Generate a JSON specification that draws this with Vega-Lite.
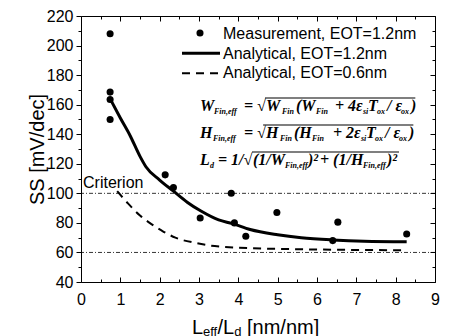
{
  "$schema": "https://vega.github.io/schema/vega-lite/v6.json",
  "width": 354,
  "height": 266,
  "autosize": {"type": "none"},
  "padding": {"left": 81, "top": 16, "right": 15, "bottom": 54},
  "background": "white",
  "config": {
    "view": {"stroke": null},
    "axis": {"labelFont": "Liberation Sans", "labelFontSize": 16, "labelColor": "black", "tickColor": "black", "domainColor": "black", "titleFont": "Liberation Sans", "titleFontSize": 20, "titleFontWeight": "normal", "titleColor": "black", "grid": false, "tickWidth": 1, "domainWidth": 1, "labelOverlap": false, "labelFlush": false}
  },
  "datasets": {
    "meas": [
      {"x": 0.74, "ss": 208}, {"x": 0.74, "ss": 168.5}, {"x": 0.74, "ss": 163.5}, {"x": 0.74, "ss": 150},
      {"x": 2.14, "ss": 112.5}, {"x": 2.35, "ss": 104}, {"x": 3.03, "ss": 83.3}, {"x": 3.82, "ss": 100},
      {"x": 3.9, "ss": 80}, {"x": 4.19, "ss": 71}, {"x": 4.98, "ss": 87}, {"x": 6.4, "ss": 68},
      {"x": 6.53, "ss": 80.5}, {"x": 8.28, "ss": 72.5}
    ],
    "solid": [
      {"x": 0.78, "ss": 162}, {"x": 1.0, "ss": 151}, {"x": 1.25, "ss": 139}, {"x": 1.5, "ss": 125},
      {"x": 1.65, "ss": 118}, {"x": 2.0, "ss": 109}, {"x": 2.35, "ss": 101.5}, {"x": 2.7, "ss": 94},
      {"x": 3.05, "ss": 88}, {"x": 3.5, "ss": 82}, {"x": 3.85, "ss": 79.5}, {"x": 4.3, "ss": 75.5},
      {"x": 5.0, "ss": 72}, {"x": 5.6, "ss": 70}, {"x": 6.4, "ss": 68.5}, {"x": 7.2, "ss": 67.6},
      {"x": 8.28, "ss": 67.2}
    ],
    "dashed": [
      {"x": 0.92, "ss": 101.5}, {"x": 1.2, "ss": 93}, {"x": 1.5, "ss": 85}, {"x": 1.8, "ss": 79},
      {"x": 2.1, "ss": 74}, {"x": 2.4, "ss": 70}, {"x": 2.9, "ss": 66.5}, {"x": 3.4, "ss": 64.3},
      {"x": 4.0, "ss": 63.2}, {"x": 5.0, "ss": 62.4}, {"x": 6.0, "ss": 62}, {"x": 7.0, "ss": 61.7},
      {"x": 8.28, "ss": 61.5}
    ],
    "refs": [{"ss": 100}, {"ss": 60}]
  },
  "resolve": {"axis": {"x": "independent", "y": "independent"}},
  "layer": [
    {
      "data": {"values": [{}]},
      "layer": [
        {
          "data": {"name": "refs"},
          "mark": {"type": "rule", "color": "black", "strokeWidth": 0.8, "strokeDash": [4, 2, 1, 2]},
          "encoding": {"y": {"field": "ss", "type": "quantitative", "scale": {"domain": [40, 220], "nice": false, "zero": false}}}
        },
        {
          "data": {"name": "meas"},
          "mark": {"type": "point", "filled": true, "color": "black", "size": 50, "opacity": 1},
          "encoding": {
            "x": {"field": "x", "type": "quantitative", "scale": {"domain": [0, 9], "nice": false, "zero": false},
              "axis": {"orient": "bottom", "values": [0, 2, 4, 6, 8], "tickSize": -5,
                "labelPadding": 14, "labelOverlap": false, "labelFlush": false, "title": null}},
            "y": {"field": "ss", "type": "quantitative", "scale": {"domain": [40, 220], "nice": false, "zero": false},
              "axis": {"orient": "left", "values": [40, 80, 120, 160, 200], "tickSize": 5,
                "labelPadding": 3, "labelOverlap": false, "labelFlush": false, "title": "SS [mV/dec]", "titlePadding": -1}}
          }
        },
        {
          "data": {"name": "solid"},
          "mark": {"type": "line", "color": "black", "strokeWidth": 3, "interpolate": "monotone"},
          "encoding": {"x": {"field": "x", "type": "quantitative"}, "y": {"field": "ss", "type": "quantitative"}}
        },
        {
          "data": {"name": "dashed"},
          "mark": {"type": "line", "color": "black", "strokeWidth": 2, "strokeDash": [8, 6], "interpolate": "monotone"},
          "encoding": {"x": {"field": "x", "type": "quantitative"}, "y": {"field": "ss", "type": "quantitative"}}
        },
        {"mark": {"type": "text", "text": "Criterion", "align": "left", "baseline": "alphabetic", "font": "Liberation Sans", "fontSize": 16, "color": "black"},
          "encoding": {"x": {"datum": 0.0508}, "y": {"datum": 103.61}}},
        {"mark": {"type": "point", "filled": true, "color": "black", "size": 50, "opacity": 1},
          "encoding": {"x": {"datum": 3.0254}, "y": {"datum": 208.5}}},
        {"mark": {"type": "rule", "color": "black", "strokeWidth": 3},
          "encoding": {"x": {"datum": 2.5678}, "x2": {"datum": 3.5339}, "y": {"datum": 194.76}}},
        {"mark": {"type": "rule", "color": "black", "strokeWidth": 2, "strokeDash": [8, 6]},
          "encoding": {"x": {"datum": 2.5678}, "x2": {"datum": 3.5339}, "y": {"datum": 181.23}}},
        {"mark": {"type": "text", "text": "Measurement, EOT=1.2nm", "align": "left", "baseline": "alphabetic", "font": "Liberation Sans", "fontSize": 16, "color": "black"},
          "encoding": {"x": {"datum": 3.6102}, "y": {"datum": 204.77}}},
        {"mark": {"type": "text", "text": "Analytical, EOT=1.2nm", "align": "left", "baseline": "alphabetic", "font": "Liberation Sans", "fontSize": 16, "color": "black"},
          "encoding": {"x": {"datum": 3.6102}, "y": {"datum": 191.24}}},
        {"mark": {"type": "text", "text": "Analytical, EOT=0.6nm", "align": "left", "baseline": "alphabetic", "font": "Liberation Sans", "fontSize": 16, "color": "black"},
          "encoding": {"x": {"datum": 3.6102}, "y": {"datum": 177.71}}},

        {"mark": {"type": "text", "text": "W", "align": "left", "baseline": "alphabetic", "font": "Liberation Serif", "fontSize": 16, "fontStyle": "italic", "fontWeight": "bold", "color": "black"}, "encoding": {"x": {"datum": 3.0254}, "y": {"datum": 155.71}}},
        {"mark": {"type": "text", "text": "Fin,eff", "align": "left", "baseline": "alphabetic", "font": "Liberation Serif", "fontSize": 8, "fontStyle": "italic", "fontWeight": "bold", "color": "black"}, "encoding": {"x": {"datum": 3.3814}, "y": {"datum": 153.68}}},
        {"mark": {"type": "text", "text": "= √W", "align": "left", "baseline": "alphabetic", "font": "Liberation Serif", "fontSize": 16, "fontStyle": "italic", "fontWeight": "bold", "color": "black"}, "encoding": {"x": {"datum": 4.1441}, "y": {"datum": 155.71}}},
        {"mark": {"type": "text", "text": "Fin", "align": "left", "baseline": "alphabetic", "font": "Liberation Serif", "fontSize": 8, "fontStyle": "italic", "fontWeight": "bold", "color": "black"}, "encoding": {"x": {"datum": 5.1102}, "y": {"datum": 153.68}}},
        {"mark": {"type": "text", "text": "(W", "align": "left", "baseline": "alphabetic", "font": "Liberation Serif", "fontSize": 16, "fontStyle": "italic", "fontWeight": "bold", "color": "black"}, "encoding": {"x": {"datum": 5.4661}, "y": {"datum": 155.71}}},
        {"mark": {"type": "text", "text": "Fin", "align": "left", "baseline": "alphabetic", "font": "Liberation Serif", "fontSize": 8, "fontStyle": "italic", "fontWeight": "bold", "color": "black"}, "encoding": {"x": {"datum": 5.9746}, "y": {"datum": 153.68}}},
        {"mark": {"type": "text", "text": "+ 4ε", "align": "left", "baseline": "alphabetic", "font": "Liberation Serif", "fontSize": 16, "fontStyle": "italic", "fontWeight": "bold", "color": "black"}, "encoding": {"x": {"datum": 6.4576}, "y": {"datum": 155.71}}},
        {"mark": {"type": "text", "text": "si", "align": "left", "baseline": "alphabetic", "font": "Liberation Serif", "fontSize": 8, "fontStyle": "italic", "fontWeight": "bold", "color": "black"}, "encoding": {"x": {"datum": 7.1695}, "y": {"datum": 153.68}}},
        {"mark": {"type": "text", "text": "T", "align": "left", "baseline": "alphabetic", "font": "Liberation Serif", "fontSize": 16, "fontStyle": "italic", "fontWeight": "bold", "color": "black"}, "encoding": {"x": {"datum": 7.2966}, "y": {"datum": 155.71}}},
        {"mark": {"type": "text", "text": "ox", "align": "left", "baseline": "alphabetic", "font": "Liberation Serif", "fontSize": 8, "fontStyle": "italic", "fontWeight": "bold", "color": "black"}, "encoding": {"x": {"datum": 7.5254}, "y": {"datum": 153.68}}},
        {"mark": {"type": "text", "text": "/ ε", "align": "left", "baseline": "alphabetic", "font": "Liberation Serif", "fontSize": 16, "fontStyle": "italic", "fontWeight": "bold", "color": "black"}, "encoding": {"x": {"datum": 7.7797}, "y": {"datum": 155.71}}},
        {"mark": {"type": "text", "text": "ox", "align": "left", "baseline": "alphabetic", "font": "Liberation Serif", "fontSize": 8, "fontStyle": "italic", "fontWeight": "bold", "color": "black"}, "encoding": {"x": {"datum": 8.1356}, "y": {"datum": 153.68}}},
        {"mark": {"type": "text", "text": ")", "align": "left", "baseline": "alphabetic", "font": "Liberation Serif", "fontSize": 16, "fontStyle": "italic", "fontWeight": "bold", "color": "black"}, "encoding": {"x": {"datum": 8.39}, "y": {"datum": 155.71}}},
        {"mark": {"type": "rule", "color": "black", "strokeWidth": 1.2}, "encoding": {"x": {"datum": 4.678}, "x2": {"datum": 8.5}, "y": {"datum": 164.51}}},

        {"mark": {"type": "text", "text": "H", "align": "left", "baseline": "alphabetic", "font": "Liberation Serif", "fontSize": 16, "fontStyle": "italic", "fontWeight": "bold", "color": "black"}, "encoding": {"x": {"datum": 3.0254}, "y": {"datum": 137.44}}},
        {"mark": {"type": "text", "text": "Fin,eff", "align": "left", "baseline": "alphabetic", "font": "Liberation Serif", "fontSize": 8, "fontStyle": "italic", "fontWeight": "bold", "color": "black"}, "encoding": {"x": {"datum": 3.356}, "y": {"datum": 135.41}}},
        {"mark": {"type": "text", "text": "= √H", "align": "left", "baseline": "alphabetic", "font": "Liberation Serif", "fontSize": 16, "fontStyle": "italic", "fontWeight": "bold", "color": "black"}, "encoding": {"x": {"datum": 4.1441}, "y": {"datum": 137.44}}},
        {"mark": {"type": "text", "text": "Fin", "align": "left", "baseline": "alphabetic", "font": "Liberation Serif", "fontSize": 8, "fontStyle": "italic", "fontWeight": "bold", "color": "black"}, "encoding": {"x": {"datum": 5.0593}, "y": {"datum": 135.41}}},
        {"mark": {"type": "text", "text": "(H", "align": "left", "baseline": "alphabetic", "font": "Liberation Serif", "fontSize": 16, "fontStyle": "italic", "fontWeight": "bold", "color": "black"}, "encoding": {"x": {"datum": 5.4153}, "y": {"datum": 137.44}}},
        {"mark": {"type": "text", "text": "Fin", "align": "left", "baseline": "alphabetic", "font": "Liberation Serif", "fontSize": 8, "fontStyle": "italic", "fontWeight": "bold", "color": "black"}, "encoding": {"x": {"datum": 5.8729}, "y": {"datum": 135.41}}},
        {"mark": {"type": "text", "text": "+ 2ε", "align": "left", "baseline": "alphabetic", "font": "Liberation Serif", "fontSize": 16, "fontStyle": "italic", "fontWeight": "bold", "color": "black"}, "encoding": {"x": {"datum": 6.4068}, "y": {"datum": 137.44}}},
        {"mark": {"type": "text", "text": "si", "align": "left", "baseline": "alphabetic", "font": "Liberation Serif", "fontSize": 8, "fontStyle": "italic", "fontWeight": "bold", "color": "black"}, "encoding": {"x": {"datum": 7.1186}, "y": {"datum": 135.41}}},
        {"mark": {"type": "text", "text": "T", "align": "left", "baseline": "alphabetic", "font": "Liberation Serif", "fontSize": 16, "fontStyle": "italic", "fontWeight": "bold", "color": "black"}, "encoding": {"x": {"datum": 7.2458}, "y": {"datum": 137.44}}},
        {"mark": {"type": "text", "text": "ox", "align": "left", "baseline": "alphabetic", "font": "Liberation Serif", "fontSize": 8, "fontStyle": "italic", "fontWeight": "bold", "color": "black"}, "encoding": {"x": {"datum": 7.4746}, "y": {"datum": 135.41}}},
        {"mark": {"type": "text", "text": "/ ε", "align": "left", "baseline": "alphabetic", "font": "Liberation Serif", "fontSize": 16, "fontStyle": "italic", "fontWeight": "bold", "color": "black"}, "encoding": {"x": {"datum": 7.7288}, "y": {"datum": 137.44}}},
        {"mark": {"type": "text", "text": "ox", "align": "left", "baseline": "alphabetic", "font": "Liberation Serif", "fontSize": 8, "fontStyle": "italic", "fontWeight": "bold", "color": "black"}, "encoding": {"x": {"datum": 8.0847}, "y": {"datum": 135.41}}},
        {"mark": {"type": "text", "text": ")", "align": "left", "baseline": "alphabetic", "font": "Liberation Serif", "fontSize": 16, "fontStyle": "italic", "fontWeight": "bold", "color": "black"}, "encoding": {"x": {"datum": 8.34}, "y": {"datum": 137.44}}},
        {"mark": {"type": "rule", "color": "black", "strokeWidth": 1.2}, "encoding": {"x": {"datum": 4.63}, "x2": {"datum": 8.45}, "y": {"datum": 146.24}}},

        {"mark": {"type": "text", "text": "L", "align": "left", "baseline": "alphabetic", "font": "Liberation Serif", "fontSize": 16, "fontStyle": "italic", "fontWeight": "bold", "color": "black"}, "encoding": {"x": {"datum": 3.0254}, "y": {"datum": 119.17}}},
        {"mark": {"type": "text", "text": "d", "align": "left", "baseline": "alphabetic", "font": "Liberation Serif", "fontSize": 8, "fontStyle": "italic", "fontWeight": "bold", "color": "black"}, "encoding": {"x": {"datum": 3.2797}, "y": {"datum": 117.14}}},
        {"mark": {"type": "text", "text": "= 1/√", "align": "left", "baseline": "alphabetic", "font": "Liberation Serif", "fontSize": 16, "fontStyle": "italic", "fontWeight": "bold", "color": "black"}, "encoding": {"x": {"datum": 3.4831}, "y": {"datum": 119.17}}},
        {"mark": {"type": "text", "text": "(1/W", "align": "left", "baseline": "alphabetic", "font": "Liberation Serif", "fontSize": 16, "fontStyle": "italic", "fontWeight": "bold", "color": "black"}, "encoding": {"x": {"datum": 4.3729}, "y": {"datum": 119.17}}},
        {"mark": {"type": "text", "text": "Fin,eff", "align": "left", "baseline": "alphabetic", "font": "Liberation Serif", "fontSize": 8, "fontStyle": "italic", "fontWeight": "bold", "color": "black"}, "encoding": {"x": {"datum": 5.1864}, "y": {"datum": 117.14}}},
        {"mark": {"type": "text", "text": ")²", "align": "left", "baseline": "alphabetic", "font": "Liberation Serif", "fontSize": 16, "fontStyle": "italic", "fontWeight": "bold", "color": "black"}, "encoding": {"x": {"datum": 5.7712}, "y": {"datum": 119.17}}},
        {"mark": {"type": "text", "text": "+ (1/H", "align": "left", "baseline": "alphabetic", "font": "Liberation Serif", "fontSize": 16, "fontStyle": "italic", "fontWeight": "bold", "color": "black"}, "encoding": {"x": {"datum": 6.0763}, "y": {"datum": 119.17}}},
        {"mark": {"type": "text", "text": "Fin,eff", "align": "left", "baseline": "alphabetic", "font": "Liberation Serif", "fontSize": 8, "fontStyle": "italic", "fontWeight": "bold", "color": "black"}, "encoding": {"x": {"datum": 7.1695}, "y": {"datum": 117.14}}},
        {"mark": {"type": "text", "text": ")²", "align": "left", "baseline": "alphabetic", "font": "Liberation Serif", "fontSize": 16, "fontStyle": "italic", "fontWeight": "bold", "color": "black"}, "encoding": {"x": {"datum": 7.7797}, "y": {"datum": 119.17}}},
        {"mark": {"type": "rule", "color": "black", "strokeWidth": 1.2}, "encoding": {"x": {"datum": 4.3475}, "x2": {"datum": 8.0847}, "y": {"datum": 127.97}}},

        {"mark": {"type": "text", "text": "L", "align": "left", "baseline": "alphabetic", "font": "Liberation Sans", "fontSize": 20, "color": "black"}, "encoding": {"x": {"datum": 2.822}, "y": {"datum": 5.15}}},
        {"mark": {"type": "text", "text": "eff", "align": "left", "baseline": "alphabetic", "font": "Liberation Sans", "fontSize": 13, "color": "black"}, "encoding": {"x": {"datum": 3.1017}, "y": {"datum": 3.45}}},
        {"mark": {"type": "text", "text": "/L", "align": "left", "baseline": "alphabetic", "font": "Liberation Sans", "fontSize": 20, "color": "black"}, "encoding": {"x": {"datum": 3.4703}, "y": {"datum": 5.15}}},
        {"mark": {"type": "text", "text": "d", "align": "left", "baseline": "alphabetic", "font": "Liberation Sans", "fontSize": 13, "color": "black"}, "encoding": {"x": {"datum": 3.895}, "y": {"datum": 3.45}}},
        {"mark": {"type": "text", "text": "[nm/nm]", "align": "left", "baseline": "alphabetic", "font": "Liberation Sans", "fontSize": 20, "color": "black"}, "encoding": {"x": {"datum": 4.2203}, "y": {"datum": 5.15}}}
      ]
    },
    {
      "data": {"name": "meas"},
      "mark": {"type": "point", "opacity": 0},
      "encoding": {
        "x": {"field": "x", "type": "quantitative", "scale": {"domain": [0, 9], "nice": false, "zero": false},
          "axis": {"orient": "top", "values": [0, 0.5, 1, 1.5, 2, 2.5, 3, 3.5, 4, 4.5, 5, 5.5, 6, 6.5, 7, 7.5, 8, 8.5, 9], "labels": false,
            "tickSize": {"condition": {"test": "datum.value % 1 === 0", "value": -5}, "value": -3}, "title": null}},
        "y": {"field": "ss", "type": "quantitative", "scale": {"domain": [40, 220], "nice": false, "zero": false},
          "axis": {"orient": "right", "values": [40, 50, 60, 70, 80, 90, 100, 110, 120, 130, 140, 150, 160, 170, 180, 190, 200, 210, 220], "labels": false,
            "tickSize": {"condition": {"test": "datum.value % 20 === 0", "value": -5}, "value": -3}, "title": null}}
      }
    },
    {
      "data": {"name": "meas"},
      "mark": {"type": "point", "opacity": 0},
      "encoding": {
        "x": {"field": "x", "type": "quantitative", "scale": {"domain": [0, 9], "nice": false, "zero": false},
          "axis": {"orient": "bottom", "values": [1, 3, 5, 7, 9], "domain": false, "tickSize": -5, "labelPadding": 14, "labelOverlap": false, "labelFlush": false, "title": null}},
        "y": {"field": "ss", "type": "quantitative", "scale": {"domain": [40, 220], "nice": false, "zero": false},
          "axis": {"orient": "left", "values": [60, 100, 140, 180, 220], "domain": false, "tickSize": 5, "labelPadding": 3, "labelOverlap": false, "labelFlush": false, "title": null}}
      }
    },
    {
      "data": {"name": "meas"},
      "mark": {"type": "point", "opacity": 0},
      "encoding": {
        "x": {"field": "x", "type": "quantitative", "scale": {"domain": [0, 9], "nice": false, "zero": false},
          "axis": {"orient": "bottom", "values": [0.5, 1.5, 2.5, 3.5, 4.5, 5.5, 6.5, 7.5, 8.5], "labels": false, "domain": false, "tickSize": -3, "title": null}},
        "y": {"field": "ss", "type": "quantitative", "scale": {"domain": [40, 220], "nice": false, "zero": false},
          "axis": {"orient": "left", "values": [50, 70, 90, 110, 130, 150, 170, 190, 210], "labels": false, "domain": false, "tickSize": 3, "title": null}}
      }
    }
  ]
}
